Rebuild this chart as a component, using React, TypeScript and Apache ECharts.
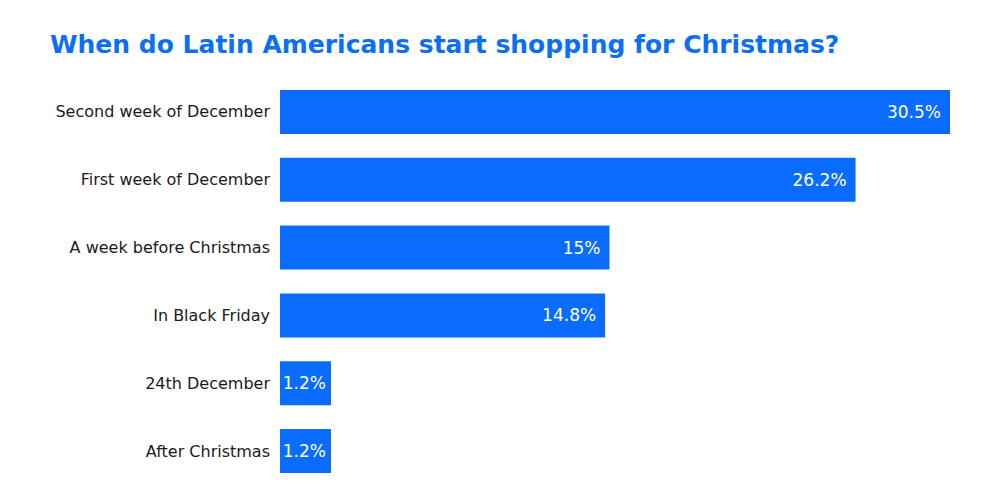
import React, { useEffect, useRef } from "react";
import * as echarts from "echarts";

const categories = [
  "Second week of December",
  "First week of December",
  "A week before Christmas",
  "In Black Friday",
  "24th December",
  "After Christmas",
];
const values = [30.5, 26.2, 15, 14.8, 1.2, 1.2];
const titleText = "When do Latin Americans start shopping for Christmas?";

export default function App() {
  const ref = useRef<HTMLDivElement>(null);
  useEffect(() => {
    if (!ref.current) return;
    const chart = echarts.init(ref.current, null, { renderer: "svg" });
    chart.setOption({
      animation: false,
      backgroundColor: "#ffffff",
      title: {
        text: titleText,
        left: 50,
        top: 32,
        padding: 0,
        textStyle: {
          color: "#0B6EF6",
          fontSize: 25,
          fontWeight: "bold",
          fontFamily: "DejaVu Sans",
        },
      },
      grid: { left: 280, right: 50, top: 78, height: 407, containLabel: false },
      xAxis: {
        type: "value",
        min: 0,
        max: 30.5,
        show: false,
      },
      yAxis: {
        type: "category",
        data: categories,
        inverse: true,
        axisLine: { show: false },
        axisTick: { show: false },
        splitLine: { show: false },
        axisLabel: {
          margin: 10,
          color: "#1a1a1a",
          fontSize: 16,
          fontFamily: "DejaVu Sans",
        },
      },
      series: [
        {
          type: "bar",
          data: values.map((v) =>
            v < 5 ? { value: v, label: { distance: 5 } } : v
          ),
          barWidth: 44,
          barMinHeight: 51,
          itemStyle: { color: "#0A6CFF" },
          label: {
            show: true,
            position: "insideRight",
            distance: 9,
            color: "#ffffff",
            fontSize: 17,
            fontFamily: "DejaVu Sans",
            formatter: (p: any) => p.value + "%",
          },
        },
      ],
    });
    return () => chart.dispose();
  }, []);
  return (
    <div
      ref={ref}
      style={{ position: "absolute", left: 0, top: 0, width: 1000, height: 500 }}
    />
  );
}
